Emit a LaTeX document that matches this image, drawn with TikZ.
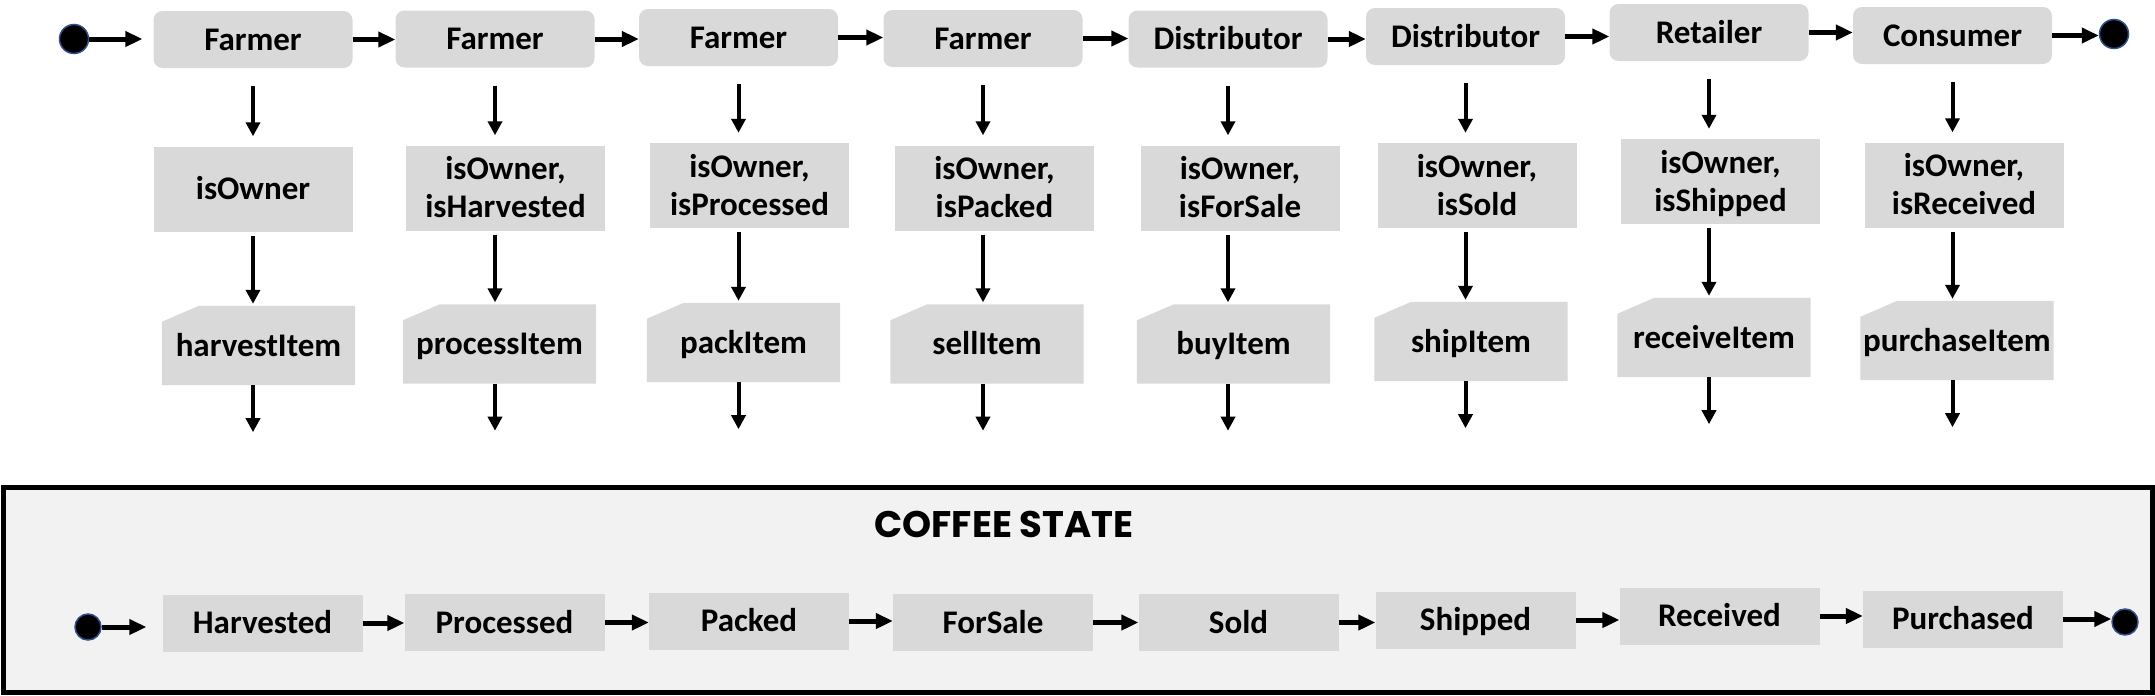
\documentclass[tikz,border=0pt]{standalone}
\usepackage{fontspec}
\setmainfont{Carlito}
\newfontfamily\titlefont{Poppins}
\usetikzlibrary{arrows.meta,calc}
\pgfdeclarelayer{bg}
\pgfsetlayers{bg,main}
\definecolor{boxgray}{HTML}{D9D9D9}
\definecolor{panelgray}{HTML}{F2F2F2}
\definecolor{ringblue}{HTML}{2F528F}
\begin{document}
\begin{tikzpicture}[x=1pt,y=-1pt,
  every node/.style={font=\fontsize{33}{38}\selectfont\bfseries, text height=21pt, text depth=0pt, inner sep=0pt, align=center},
  actor/.style={fill=boxgray, rounded corners=9pt, minimum width=199pt, minimum height=57pt},
  cond/.style={fill=boxgray, minimum width=199pt, minimum height=85pt},
  cond2/.style={cond, text height=59pt},
  act/.style={minimum width=193pt, minimum height=79pt},
  stbox/.style={fill=boxgray, minimum width=200pt, minimum height=57pt},
  bigdot/.style={circle, fill=black, draw=ringblue, line width=1.5pt, minimum size=29pt},
  smalldot/.style={circle, fill=black, draw=ringblue, line width=1.5pt, minimum size=26pt},
  harr/.style={line width=5pt, -{Triangle[length=17pt,width=15pt]}},
  varr/.style={line width=4pt, -{Triangle[length=14pt,width=14pt]}}
]
\useasboundingbox (0,0) rectangle (2155,696);

% frame of the coffee state panel
\node[draw, line width=5pt, fill=panelgray, minimum width=2149pt, minimum height=205pt] (frame) at (1077.5,589.5) {};
\node[font=\titlefont\fontsize{37}{40}\bfseries, text height=26pt] (title) at (1004,524) {COFFEE STATE};

% top row: actors
\node[bigdot] (s0) at (74,39) {};
\node[actor] (f1) at (253,39.5) {Farmer};
\node[actor] (f2) at (495,39) {Farmer};
\node[actor] (f3) at (738.5,37.5) {Farmer};
\node[actor] (f4) at (983,38.5) {Farmer};
\node[actor] (f5) at (1228,39) {Distributor};
\node[actor] (f6) at (1465.5,36.5) {Distributor};
\node[actor] (f7) at (1709,32.5) {Retailer};
\node[actor] (f8) at (1952.5,35.5) {Consumer};
\node[bigdot] (s9) at (2114,34) {};

% second row: conditions
\node[cond] (o1) at (253,189) {isOwner};
\node[cond2] (o2) at (505.5,188) {isOwner,\\isHarvested};
\node[cond2] (o3) at (749.5,185.5) {isOwner,\\isProcessed};
\node[cond2] (o4) at (994.5,188) {isOwner,\\isPacked};
\node[cond2] (o5) at (1240,188) {isOwner,\\isForSale};
\node[cond2] (o6) at (1477,185.5) {isOwner,\\isSold};
\node[cond2] (o7) at (1720.5,181.5) {isOwner,\\isShipped};
\node[cond2] (o8) at (1964,185) {isOwner,\\isReceived};

% third row: actions
\node[act] (i1) at (258.5,345.5) {harvestItem};
\node[act] (i2) at (499.5,344) {processItem};
\node[act] (i3) at (743.5,342.5) {packItem};
\node[act] (i4) at (987,344) {sellItem};
\node[act] (i5) at (1233.5,344) {buyItem};
\node[act] (i6) at (1471,341.5) {shipItem};
\node[act] (i7) at (1714,337.5) {receiveItem};
\node[act] (i8) at (1957,340.5) {purchaseItem};

\begin{pgfonlayer}{bg}
\foreach \k in {1,...,8}{
  \fill[boxgray] (i\k.south west) -- (i\k.south east) -- (i\k.north east)
     -- ($(i\k.north west)+(37,0)$) -- ($(i\k.north west)+(0,16)$) -- cycle;
}
\end{pgfonlayer}

% bottom row: states
\node[smalldot] (b0) at (88,627) {};
\node[stbox] (h1) at (262.5,623) {Harvested};
\node[stbox] (h2) at (504.5,622.5) {Processed};
\node[stbox] (h3) at (749,621) {Packed};
\node[stbox] (h4) at (993,622.5) {ForSale};
\node[stbox] (h5) at (1238.5,622.5) {Sold};
\node[stbox] (h6) at (1475.5,620) {Shipped};
\node[stbox] (h7) at (1719.5,616) {Received};
\node[stbox] (h8) at (1963,619) {Purchased};
\node[smalldot] (b9) at (2125,622) {};

% top horizontal arrows
\draw[harr, shorten >=11pt] (s0) -- (s0 -| f1.west);
\foreach \a/\b in {f1/f2,f2/f3,f3/f4,f4/f5,f5/f6,f6/f7,f7/f8}{
  \draw[harr] (\a.east) -- (\a.east -| \b.west);
}
\draw[harr] (f8.east) -- (f8.east -| s9.west);

% vertical arrows
\foreach \k in {1,...,8}{
  \draw[varr, shorten <=18pt, shorten >=10pt] (f\k.south) -- (f\k.south |- o\k.north);
  \draw[varr, shorten <=4pt, shorten >=2pt] (f\k.south |- o\k.south) -- (f\k.south |- i\k.north);
  \coordinate (e\k) at ($(f\k.south |- i\k.south)+(0,47)$);
  \draw[varr] (f\k.south |- i\k.south) -- (e\k);
}

% bottom horizontal arrows
\draw[harr, shorten >=16pt] (b0) -- (b0 -| h1.west);
\foreach \a/\b in {h1/h2,h2/h3,h3/h4,h4/h5,h5/h6,h6/h7,h7/h8}{
  \draw[harr] (\a.east) -- (\a.east -| \b.west);
}
\draw[harr] (h8.east) -- (h8.east -| b9.west);
\end{tikzpicture}
\end{document}
